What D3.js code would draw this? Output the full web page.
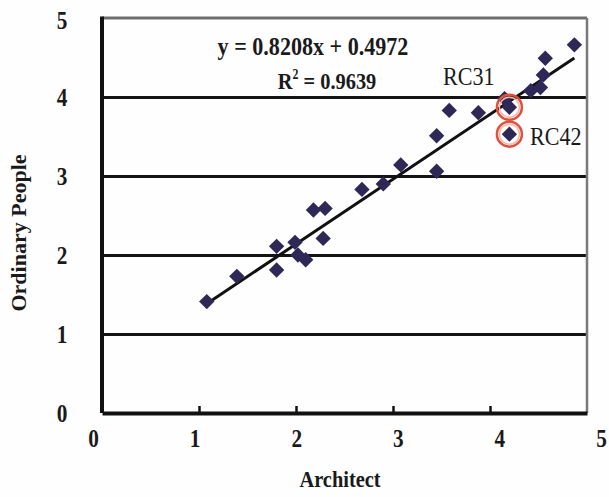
<!DOCTYPE html>
<html>
<head>
<meta charset="utf-8">
<script src="https://cdn.jsdelivr.net/npm/d3@7"></script>
<style>
  html, body { margin: 0; padding: 0; background: #fff; }
  svg { display: block; }
</style>
</head>
<body>
<script>
// ---- data ----
const architect = [1.08, 1.39, 1.80, 1.80, 1.99, 2.02, 2.10, 2.18, 2.30, 2.28, 2.68, 2.90, 3.08, 3.45, 3.45, 3.58, 3.88, 4.15, 4.20, 4.20, 4.42, 4.52, 4.55, 4.57, 4.87];
const ordinary  = [1.41, 1.73, 2.11, 1.81, 2.16, 2.00, 1.94, 2.57, 2.59, 2.21, 2.83, 2.90, 3.14, 3.06, 3.51, 3.83, 3.80, 3.98, 3.87, 3.53, 4.08, 4.12, 4.28, 4.49, 4.66];
const highlighted = [{ name: "RC31", x: 4.20, y: 3.87 }, { name: "RC42", x: 4.20, y: 3.53 }];
const tickValues = [0, 1, 2, 3, 4, 5];
const slope = 0.8208, intercept = 0.4972;
const eqText = "y = 0.8208x + 0.4972";
const r2Text = "0.9639";
const xTitle = "Architect";
const yTitle = "Ordinary People";

// ---- layout ----
const W = 609, H = 497;
const L = 102, R = 587, T = 18, B = 413;
const SX = 0.85; // horizontal squeeze of the reference's text

const svg = d3.select("body").append("svg").attr("width", W).attr("height", H);
svg.append("rect").attr("width", W).attr("height", H).attr("fill", "#fefefe");

const x = d3.scaleLinear().domain([0, 5]).range([L, R]);
const y = d3.scaleLinear().domain([0, 5]).range([B, T]);
const xLabel = d3.scaleLinear().domain([0, 5]).range([93, 601]);

const serif = "'Liberation Serif', 'Times New Roman', serif";

// gridlines (y = 1..4)
const grid = svg.append("g").attr("transform", `translate(${L},0)`)
  .call(d3.axisLeft(y).tickValues([1, 2, 3, 4]).tickSize(-(R - L)).tickFormat(""));
grid.select(".domain").remove();
grid.selectAll(".tick line").attr("stroke", "#141414").attr("stroke-width", 3);

// top and right border
svg.append("line").attr("x1", x(0)).attr("x2", x(5)).attr("y1", y(5)).attr("y2", y(5))
  .attr("stroke", "#6e6e6e").attr("stroke-width", 3);
svg.append("line").attr("x1", x(5)).attr("x2", x(5)).attr("y1", y(5)).attr("y2", y(0))
  .attr("stroke", "#7a7a7a").attr("stroke-width", 2.5);

// left axis line
svg.append("line").attr("x1", x(0)).attr("x2", x(0)).attr("y1", y(5) - 1.5).attr("y2", y(0))
  .attr("stroke", "#111").attr("stroke-width", 4);

// bottom axis with inward tick marks
const xa = svg.append("g").attr("transform", `translate(0,${B})`)
  .call(d3.axisBottom(x).tickValues([1, 2, 3, 4]).tickSizeInner(-7).tickSizeOuter(0).tickFormat(""));
xa.select(".domain").attr("stroke", "#111").attr("stroke-width", 4);
xa.selectAll(".tick line").attr("stroke", "#111").attr("stroke-width", 2.5);

// x tick labels
const xl = svg.append("g").attr("transform", `translate(0,${B})`)
  .call(d3.axisBottom(xLabel).tickValues(tickValues).tickSize(0).tickPadding(0).tickFormat(d3.format("d")));
xl.select(".domain").remove();
xl.selectAll("text").attr("y", 34).attr("dy", null)
  .attr("font-family", serif).attr("font-size", 25).attr("font-weight", "bold").attr("fill", "#1a1a1a")
  .attr("transform", `scale(${SX},1)`);

// y tick labels
const yl = svg.append("g").attr("transform", `translate(62,0)`)
  .call(d3.axisLeft(y).tickValues(tickValues).tickSize(0).tickPadding(0).tickFormat(d3.format("d")));
yl.select(".domain").remove();
yl.selectAll("text").attr("x", 0).attr("text-anchor", "middle").attr("dy", "0.34em")
  .attr("font-family", serif).attr("font-size", 25).attr("font-weight", "bold").attr("fill", "#1a1a1a")
  .attr("transform", `scale(${SX},1)`);
yl.selectAll(".tick").filter(d => d === 5).attr("transform", `translate(0,${y(5) + 2})`);

// regression line
const xmin = d3.min(architect), xmax = d3.max(architect);
svg.append("line")
  .attr("x1", x(xmin)).attr("y1", y(slope * xmin + intercept))
  .attr("x2", x(xmax)).attr("y2", y(slope * xmax + intercept))
  .attr("stroke", "#111").attr("stroke-width", 3);

// points (diamonds)
const pts = architect.map((a, i) => ({ a, o: ordinary[i] }));
svg.append("g").selectAll("path").data(pts).join("path")
  .attr("d", d3.symbol(d3.symbolSquare, 118))
  .attr("transform", d => `translate(${x(d.a)},${y(d.o)}) rotate(45)`)
  .attr("fill", "#2d2856");

// highlighted circles
svg.append("g").selectAll("circle").data(highlighted).join("circle")
  .attr("cx", d => x(d.x)).attr("cy", d => y(d.y)).attr("r", 12.5)
  .attr("fill", "none").attr("stroke", "#e0503f").attr("stroke-width", 2.5);
svg.append("g").selectAll("circle").data(highlighted).join("circle")
  .attr("cx", d => x(d.x)).attr("cy", d => y(d.y)).attr("r", 10)
  .attr("fill", "none").attr("stroke", "#f3b8a8").attr("stroke-width", 1.5);

// labels of highlighted points
function sq(sel, px, py) { return sel.attr("transform", `translate(${px},${py}) scale(${SX},1)`); }
sq(svg.append("text").text(highlighted[0].name), 443, 85)
  .attr("font-family", serif).attr("font-size", 26).attr("fill", "#1a1a1a");
sq(svg.append("text").text(highlighted[1].name), 530, 145)
  .attr("font-family", serif).attr("font-size", 26).attr("fill", "#1a1a1a");

// equation
sq(svg.append("text").text(eqText), 313, 55)
  .attr("text-anchor", "middle").attr("font-family", serif).attr("font-size", 26)
  .attr("font-weight", "bold").attr("fill", "#1a1a1a");
const r2 = sq(svg.append("text"), 327, 89)
  .attr("text-anchor", "middle").attr("font-family", serif).attr("font-size", 24)
  .attr("font-weight", "bold").attr("fill", "#1a1a1a");
r2.append("tspan").text("R");
r2.append("tspan").text("2").attr("font-size", 14).attr("dy", -10);
r2.append("tspan").text(" = " + r2Text).attr("dy", 10);

// axis titles
sq(svg.append("text").text(xTitle), 340, 487)
  .attr("text-anchor", "middle").attr("font-family", serif).attr("font-size", 24)
  .attr("font-weight", "bold").attr("fill", "#1a1a1a");
svg.append("text").text(yTitle)
  .attr("transform", `translate(26,233) rotate(-90)`)
  .attr("text-anchor", "middle").attr("font-family", serif).attr("font-size", 22)
  .attr("font-weight", "bold").attr("fill", "#1a1a1a");
</script>
</body>
</html>
